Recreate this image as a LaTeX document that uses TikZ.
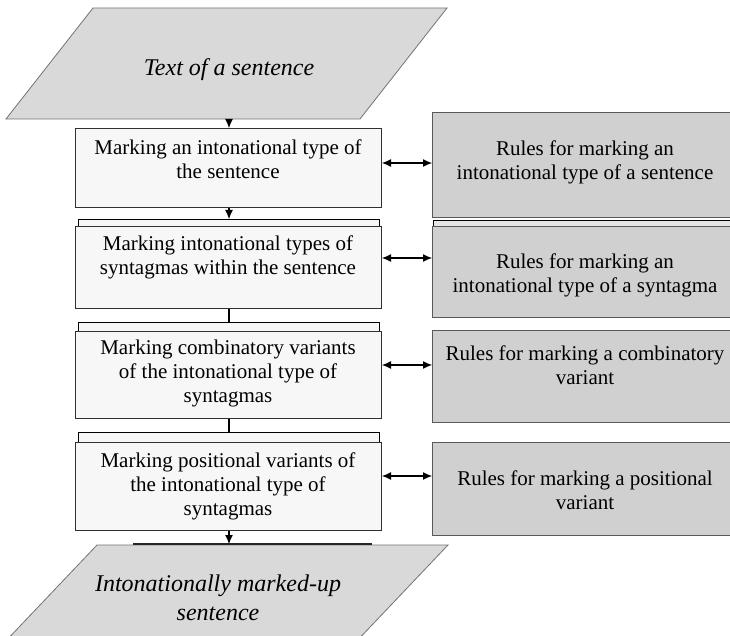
\documentclass[tikz,border=0pt]{standalone}
\usepackage{fontspec}
\setmainfont{Liberation Serif}
\usetikzlibrary{arrows.meta,calc}

\definecolor{stepfill}{HTML}{F7F7F7}
\definecolor{rulefill}{HTML}{D0D0D0}
\definecolor{iofill}{HTML}{D9D9D9}
\definecolor{edge}{HTML}{303030}

\tikzset{
  stepbox/.style={draw=edge, line width=1pt, fill=stepfill, inner sep=0pt, anchor=north west},
  rulebox/.style={draw=edge!80, line width=1pt, fill=rulefill, inner sep=0pt, anchor=north west},
  tab/.style={draw=black, line width=1.2pt, fill=stepfill, inner sep=0pt, anchor=north west},
  iobox/.style={draw=black!55, line width=0.8pt, fill=iofill},
  label/.style={align=center, font=\fontsize{21}{24}\selectfont, inner sep=0pt},
  iolabel/.style={align=center, font=\fontsize{24}{29}\selectfont\itshape, inner sep=0pt},
  tip/.style={Latex[length=9pt,width=8pt]},
  flow/.style={line width=1.1pt, -{Latex[length=9pt,width=8pt]}},
  link/.style={line width=1.1pt},
  both/.style={line width=1.1pt, {Latex[length=9pt,width=8pt]}-{Latex[length=9pt,width=8pt]}}
}

\begin{document}
\begin{tikzpicture}[x=1pt,y=-1pt]
\useasboundingbox (0,0) rectangle (730,636);
\fill[white] (0,0) rectangle (730,636);

% input parallelogram
\draw[iobox] (93,8) -- (447,8) -- (360,119) -- (6,119) -- cycle;
\node[iolabel] (txt) at (229,70) {Text of a sentence};
\coordinate (inbot) at (229,119);

% stacked tabs behind the step boxes
\node[tab, minimum width=301pt, minimum height=14pt] (tab2) at (78,219) {};
\node[tab, minimum width=301pt, minimum height=14pt] (tab3) at (78,322) {};
\node[tab, minimum width=301pt, minimum height=14pt] (tab4) at (78,432) {};
\node[tab, fill=white!90!black, minimum width=320pt, minimum height=12pt] (rtab2) at (433,220) {};

% step boxes
\node[stepbox, minimum width=306pt, minimum height=79pt] (s1) at (75,128) {};
\node[stepbox, minimum width=306pt, minimum height=82pt] (s2) at (75,226) {};
\node[stepbox, minimum width=306pt, minimum height=87pt] (s3) at (75,331) {};
\node[stepbox, minimum width=306pt, minimum height=88pt] (s4) at (75,442) {};

\node[label] at (228,159) {Marking an intonational type of\\the sentence};
\node[label] at (228,257) {Marking intonational types of\\syntagmas within the sentence};
\node[label] at (228,373) {Marking combinatory variants\\of the intonational type of\\syntagmas};
\node[label] at (228,486) {Marking positional variants of\\the intonational type of\\syntagmas};

% rule boxes
\node[rulebox, minimum width=306pt, minimum height=105pt] (r1) at (432,112) {};
\node[rulebox, minimum width=306pt, minimum height=91pt] (r2) at (432,226) {};
\node[rulebox, minimum width=306pt, minimum height=92pt] (r3) at (432,330) {};
\node[rulebox, minimum width=306pt, minimum height=93pt] (r4) at (432,442) {};

\node[label] at (585,162) {Rules for marking an\\intonational type of a sentence};
\node[label] at (585,275) {Rules for marking an\\intonational type of a syntagma};
\node[label] at (585,365) {Rules for marking a combinatory\\variant};
\node[label] at (585,490) {Rules for marking a positional\\variant};

% output parallelogram
\draw[iobox] (97,545) -- (448,545) -- (353,645) -- (2,645) -- cycle;
\draw[line width=1.5pt, black!85] (133,544) -- (372,544);
\node[iolabel] (out) at (218,598) {Intonationally marked-up\\sentence};
\coordinate (outtop) at (229,544);

% vertical flow
\draw[flow] (inbot) -- (s1.north -| inbot);
\draw[flow] (s1.south -| inbot) -- (tab2.north -| inbot);
\draw[link] (s2.south -| inbot) -- (tab3.north -| inbot);
\draw[link] (s3.south -| inbot) -- (tab4.north -| inbot);
\draw[flow] (s4.south -| inbot) -- (outtop);

% two-way links to rule boxes
\draw[both] (s1.east |- 0,163) -- (r1.west |- 0,163);
\draw[both] (s2.east |- 0,258) -- (r2.west |- 0,258);
\draw[both] (s3.east |- 0,365) -- (r3.west |- 0,365);
\draw[both] (s4.east |- 0,476) -- (r4.west |- 0,476);
\end{tikzpicture}
\end{document}
